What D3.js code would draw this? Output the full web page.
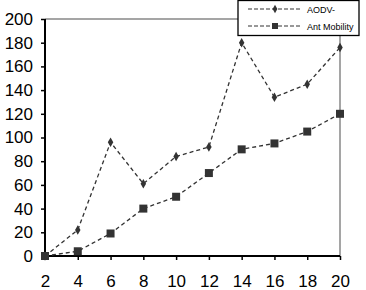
<!DOCTYPE html>
<html>
<head>
<meta charset="UTF-8">
<script src="https://d3js.org/d3.v7.min.js"></script>
<style>
  body { margin: 0; background: #fff; }
  svg { display: block; font-family: Arial, "Liberation Sans", sans-serif; }
</style>
</head>
<body>
<div id="chart"></div>
<script>
// data
const nodes = [2, 4, 6, 8, 10, 12, 14, 16, 18, 20];
const aodv = [0, 22, 96, 61, 84, 92, 180, 134, 145, 176];
const antMobility = [0, 4, 19, 40, 50, 70, 90, 95, 105, 120];
const yTicks = [0, 20, 40, 60, 80, 100, 120, 140, 160, 180, 200];
const seriesNames = ["AODV-", "Ant Mobility"];

const W = 366, H = 290;
const pLeft = 45, pRight = 340, pTop = 19, pBottom = 256;

const svg = d3.select("#chart").append("svg")
  .attr("width", W).attr("height", H);

const x = d3.scaleLinear().domain([2, 20]).range([pLeft, pRight]);
const y = d3.scaleLinear().domain([0, 200]).range([pBottom, pTop]);

// plot frame (grey top/right)
svg.append("path")
  .attr("d", `M${pLeft},${pTop}H${pRight}V${pBottom}`)
  .attr("fill", "none").attr("stroke", "#888").attr("stroke-width", 1.5);

// axes
const yAxis = svg.append("g").attr("transform", `translate(${pLeft},0)`)
  .call(d3.axisLeft(y).tickValues(yTicks).tickSize(4).tickPadding(8));
const xAxis = svg.append("g").attr("transform", `translate(0,${pBottom})`)
  .call(d3.axisBottom(x).tickValues(nodes).tickSize(4).tickPadding(15));
[yAxis, xAxis].forEach(a => {
  a.select(".domain").attr("stroke", "#000").attr("stroke-width", 2);
  a.selectAll(".tick line").attr("stroke", "#000").attr("stroke-width", 1.5);
  a.selectAll("text").attr("font-size", 17).attr("fill", "#000")
   .attr("font-family", "Arial, 'Liberation Sans', sans-serif");
});
xAxis.select(".domain").attr("d", `M${pLeft},0H${pRight}`);
yAxis.select(".domain").attr("d", `M0,${pBottom}V${pTop}`);

const line = d3.line().x((d, i) => x(nodes[i])).y(d => y(d));
const col = "#333";

function drawSeries(vals, marker) {
  svg.append("path").datum(vals)
    .attr("d", line).attr("fill", "none")
    .attr("stroke", col).attr("stroke-width", 1.3)
    .attr("stroke-dasharray", "4,3");
  svg.append("g").selectAll("path").data(vals).join("path")
    .attr("transform", (d, i) => `translate(${x(nodes[i])},${y(d)})`)
    .attr("d", marker).attr("fill", col);
}
const diamond = d3.symbol().type(d3.symbolDiamond).size(26)();
const square = "M-4,-4H4V4H-4Z";
drawSeries(aodv, diamond);
drawSeries(antMobility, square);

// legend
const lg = svg.append("g");
lg.append("rect").attr("x", 238).attr("y", 0.5).attr("width", 121).attr("height", 35)
  .attr("fill", "#fff").attr("stroke", "#000").attr("stroke-width", 1.3);
[diamond, square].forEach((m, i) => {
  const ly = 9 + i * 17;
  lg.append("line").attr("x1", 248).attr("x2", 302).attr("y1", ly).attr("y2", ly)
    .attr("stroke", col).attr("stroke-width", 1.2).attr("stroke-dasharray", "4,2");
  lg.append("path").attr("transform", `translate(275,${ly})`)
    .attr("d", i === 0 ? d3.symbol().type(d3.symbolDiamond).size(20)() : "M-3,-3H3V3H-3Z")
    .attr("fill", col);
  lg.append("text").attr("x", 307).attr("y", ly + 3.5)
    .attr("font-size", 9).attr("fill", "#000").text(seriesNames[i]);
});
</script>
</body>
</html>
